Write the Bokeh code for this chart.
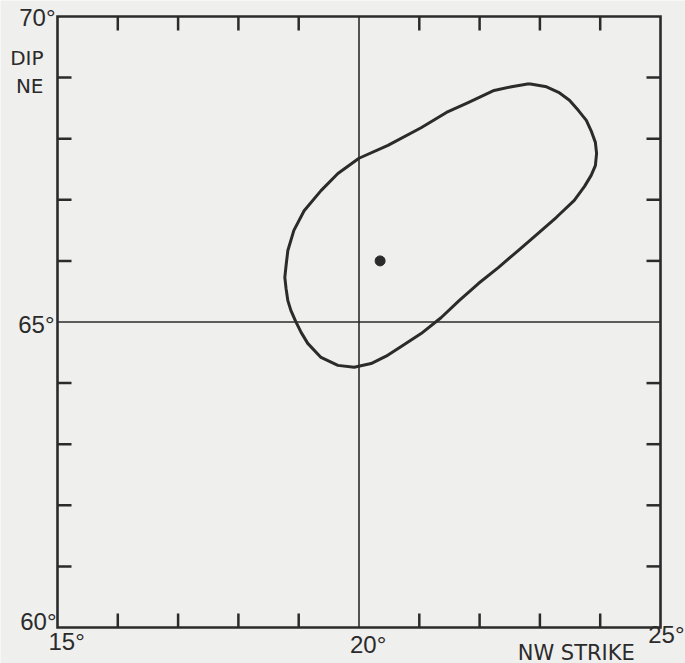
import math
from bokeh.plotting import figure
from bokeh.models import Range1d
from bokeh.core.properties import value
from bokeh.embed import file_html
from bokeh.resources import INLINE

# Confidence contour of the fault-plane solution (strike NW vs dip NE, degrees)
strike = [22.82, 23.11, 23.31, 23.49, 23.64, 23.77, 23.85, 23.92, 23.94, 23.92,
          23.85, 23.74, 23.57, 23.27, 22.97, 22.64, 22.31, 21.98, 21.66, 21.36,
          21.03, 20.70, 20.45, 20.20, 19.92, 19.65, 19.37, 19.15, 19.04, 18.95,
          18.87, 18.82, 18.79, 18.77, 18.79, 18.82, 18.92, 19.09, 19.37, 19.65,
          20.00, 20.48, 21.03, 21.45, 21.81, 22.24, 22.53]
dip = [68.90, 68.85, 68.76, 68.63, 68.46, 68.30, 68.13, 67.94, 67.76, 67.56,
       67.40, 67.22, 66.99, 66.71, 66.45, 66.17, 65.89, 65.63, 65.35, 65.07,
       64.81, 64.60, 64.44, 64.32, 64.26, 64.29, 64.42, 64.65, 64.83, 65.01,
       65.19, 65.35, 65.55, 65.73, 65.92, 66.17, 66.50, 66.82, 67.15, 67.43,
       67.68, 67.89, 68.18, 68.43, 68.59, 68.79, 68.85]

# best solution
best_strike = [20.35]
best_dip = [66.0]

strike_lo, strike_mid, strike_hi = 15, 20, 25
dip_lo, dip_mid, dip_hi = 60, 65, 70
strike_minor = [t for t in range(strike_lo + 1, strike_hi) if t != strike_mid]
dip_minor = [t for t in range(dip_lo + 1, dip_hi) if t != dip_mid]
strike_labels = [15, 20, 25]
dip_labels = [70, 65, 60]

INK = "#2b2b2b"
PAPER = "#efefed"
NUM_FONT = "Liberation Sans"
WORD_FONT = "DejaVu Sans"

# page layout in pixels
W, H = 685, 663
L, R, T, B = 57, 25, 16, 36
sx = (W - L - R) / (strike_hi - strike_lo)
sy = (H - T - B) / (dip_hi - dip_lo)

p = figure(width=W, height=H,
           x_range=Range1d(strike_lo - L / sx, strike_hi + R / sx),
           y_range=Range1d(dip_lo - B / sy, dip_hi + T / sy),
           x_axis_location=None, y_axis_location=None,
           output_backend="svg", toolbar_location=None,
           background_fill_color=PAPER, border_fill_color=PAPER,
           outline_line_color=None, min_border=0)
p.grid.visible = False

# outer frame
p.quad(left=[strike_lo], right=[strike_hi], bottom=[dip_lo], top=[dip_hi],
       fill_color=None, line_color=INK, line_width=2.6, line_join="miter")

# reference lines through the middle of the grid
p.segment(x0=[strike_mid, strike_lo], y0=[dip_lo, dip_mid],
          x1=[strike_mid, strike_hi], y1=[dip_hi, dip_mid],
          line_color=INK, line_width=1.6)

# inward ticks every degree
TICK = 14
tick_style = dict(length=TICK, length_units="screen", line_color=INK, line_width=2.5)
p.ray(x=strike_minor, y=[dip_lo] * len(strike_minor), angle=math.pi / 2, **tick_style)
p.ray(x=strike_minor, y=[dip_hi] * len(strike_minor), angle=-math.pi / 2, **tick_style)
p.ray(x=[strike_lo] * len(dip_minor), y=dip_minor, angle=0, **tick_style)
p.ray(x=[strike_hi] * len(dip_minor), y=dip_minor, angle=math.pi, **tick_style)

# contour and best solution
xs = strike + strike[:1]
ys = dip + dip[:1]
p.line(xs, ys, line_color=INK, line_width=3, line_join="round")
p.scatter(best_strike, best_dip, size=10, color=INK)


def lab(x, y, text, dx, dy, align, size, font=NUM_FONT):
    """Centre a text vertically at a data anchor shifted by dx (right) / dy (down) pixels."""
    p.text(x=[x + dx / sx], y=[y - dy / sy], text=[text],
           text_align=align, text_baseline="middle",
           text_font=value(font), text_font_size=value(size), text_color=INK)


# dip labels left of the frame
lab(strike_lo, dip_labels[0], f"{dip_labels[0]}°", -2, 1, "right", "24px")
lab(strike_lo, dip_labels[1], f"{dip_labels[1]}°", -3, 2, "right", "24px")
lab(strike_lo, dip_labels[2], f"{dip_labels[2]}°", -1, -6, "right", "24px")
lab(strike_lo, dip_hi, "DIP", -14, 41, "right", "20px", WORD_FONT)
lab(strike_lo, dip_hi, "NE", -14, 69, "right", "20px", WORD_FONT)

# strike labels below the frame
lab(strike_labels[0], dip_lo, f"{strike_labels[0]}°", -9, 14, "left", "24px")
lab(strike_labels[1], dip_lo, f"{strike_labels[1]}°", -9, 17, "left", "24px")
lab(strike_labels[2], dip_lo, f"{strike_labels[2]}°", 24, 7, "right", "24px")
lab(strike_hi, dip_lo, "NW  STRIKE", -19, 25, "right", "21px", WORD_FONT)

open("out.html", "w").write(file_html(p, INLINE))
